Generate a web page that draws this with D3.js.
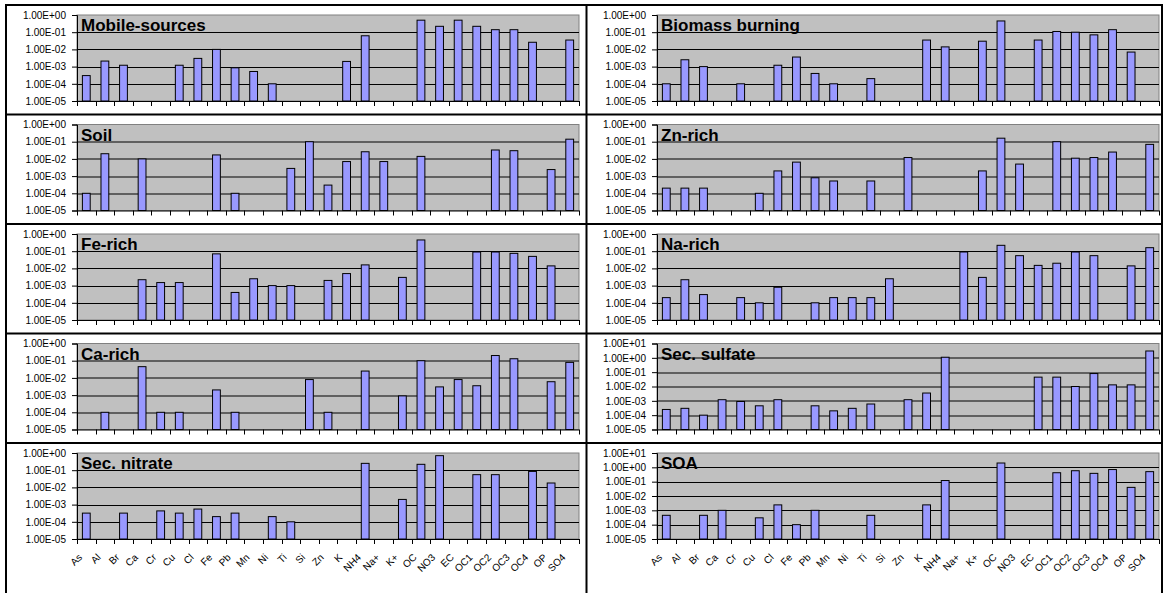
<!DOCTYPE html>
<html>
<head>
<meta charset="utf-8">
<script src="https://cdn.jsdelivr.net/npm/d3@7"></script>
<style>
  html, body { margin: 0; padding: 0; background: #fff; }
  svg { display: block; font-family: "Liberation Sans", Arial, sans-serif; }
</style>
</head>
<body>
<svg id="chart" width="1165" height="593"></svg>
<script>
// Species on the x axis (shared by every panel)
const categories = ["As","Al","Br","Ca","Cr","Cu","Cl","Fe","Pb","Mn","Ni","Ti","Si","Zn","K",
  "NH4","Na+","K+","OC","NO3","EC","OC1","OC2","OC3","OC4","OP","SO4"];

// Source profiles (mass fraction, null = not present)
//                       As      Al      Br      Ca      Cr      Cu      Cl      Fe      Pb      Mn      Ni      Ti      Si      Zn      K       NH4     Na+     K+      OC      NO3     EC      OC1     OC2     OC3     OC4     OP      SO4
const mobileSources  = [3e-4,   2.1e-3, 1.2e-3, null,   null,   1.2e-3, 3e-3,   1e-2,   8.5e-4, 5.2e-4, 1e-4,   null,   null,   null,   2e-3,   6.2e-2, null,   null,   0.5,    0.22,   0.5,    0.22,   0.14,   0.14,   2.6e-2, null,   3.5e-2];
const biomassBurning = [1e-4,   2.5e-3, 1e-3,   null,   1e-4,   null,   1.2e-3, 3.6e-3, 4e-4,   1e-4,   null,   2e-4,   null,   null,   3.5e-2, 1.4e-2, null,   3e-2,   0.45,   null,   3.5e-2, 0.11,   0.1,    7e-2,   0.14,   7e-3,   null];
const soil           = [1e-4,   2e-2,   null,   1e-2,   null,   null,   null,   1.7e-2, 1e-4,   null,   null,   2.8e-3, 0.1,    3e-4,   7e-3,   2.6e-2, 7e-3,   null,   1.4e-2, null,   null,   null,   3.3e-2, 3e-2,   null,   2.4e-3, 0.14];
const znRich         = [2e-4,   2e-4,   2e-4,   null,   null,   1e-4,   2e-3,   6.5e-3, 8e-4,   5.2e-4, null,   5.2e-4, null,   1.2e-2, null,   null,   null,   2e-3,   0.16,   5e-3,   null,   0.1,    1.1e-2, 1.2e-2, 2.5e-2, null,   7e-2];
const feRich         = [null,   null,   null,   2.2e-3, 1.5e-3, 1.5e-3, null,   7e-2,   4e-4,   2.5e-3, 1e-3,   1e-3,   null,   2e-3,   5e-3,   1.6e-2, null,   3e-3,   0.45,   null,   null,   9e-2,   9e-2,   7.5e-2, 5e-2,   1.4e-2, null];
const naRich         = [2e-4,   2.2e-3, 3e-4,   null,   2e-4,   1e-4,   8e-4,   null,   1e-4,   2e-4,   2e-4,   2e-4,   2.5e-3, null,   null,   null,   9e-2,   3e-3,   0.22,   5.5e-2, 1.5e-2, 2e-2,   9e-2,   5.5e-2, null,   1.4e-2, 0.16];
const caRich         = [null,   1e-4,   null,   4.5e-2, 1e-4,   1e-4,   null,   2e-3,   1e-4,   null,   null,   null,   8e-3,   1e-4,   null,   2.5e-2, null,   9e-4,   0.1,    3e-3,   8e-3,   3.5e-3, 0.2,    0.13,   null,   6e-3,   8e-2];
const secSulfate     = [2.5e-4, 3e-4,   1e-4,   1.2e-3, 9e-4,   4.5e-4, 1.2e-3, null,   4.5e-4, 2e-4,   3e-4,   6e-4,   null,   1.2e-3, 3.5e-3, 1.1,    null,   null,   null,   null,   4.5e-2, 4.5e-2, 1e-2,   8e-2,   1.3e-2, 1.3e-2, 3];
const secNitrate     = [3.2e-4, null,   3.2e-4, null,   4.3e-4, 3.2e-4, 5.5e-4, 2e-4,   3.2e-4, null,   2e-4,   1e-4,   null,   null,   null,   0.25,   null,   2e-3,   0.22,   0.7,    null,   5.5e-2, 5.5e-2, null,   8.5e-2, 1.8e-2, null];
const soa            = [4.5e-4, null,   4.5e-4, 1e-3,   null,   3e-4,   2.4e-3, 1e-4,   1e-3,   null,   null,   4.5e-4, null,   null,   2.4e-3, 0.12,   null,   null,   2,      null,   null,   0.42,   0.58,   0.38,   0.7,    4e-2,   0.5];

// Y tick values (decades)
const ticksTo1  = [1e-5, 1e-4, 1e-3, 1e-2, 1e-1, 1e0];
const ticksTo10 = [1e-5, 1e-4, 1e-3, 1e-2, 1e-1, 1e0, 1e1];

// Panel grid: column 0 = left, column 1 = right
const panels = [
  { title: "Mobile-sources",  values: mobileSources,  ticks: ticksTo1,  col: 0, row: 0 },
  { title: "Soil",            values: soil,           ticks: ticksTo1,  col: 0, row: 1 },
  { title: "Fe-rich",         values: feRich,         ticks: ticksTo1,  col: 0, row: 2 },
  { title: "Ca-rich",         values: caRich,         ticks: ticksTo1,  col: 0, row: 3 },
  { title: "Sec. nitrate",    values: secNitrate,     ticks: ticksTo1,  col: 0, row: 4 },
  { title: "Biomass burning", values: biomassBurning, ticks: ticksTo1,  col: 1, row: 0 },
  { title: "Zn-rich",         values: znRich,         ticks: ticksTo1,  col: 1, row: 1 },
  { title: "Na-rich",         values: naRich,         ticks: ticksTo1,  col: 1, row: 2 },
  { title: "Sec. sulfate",    values: secSulfate,     ticks: ticksTo10, col: 1, row: 3 },
  { title: "SOA",             values: soa,            ticks: ticksTo10, col: 1, row: 4 }
];

// Layout
const plotLeft = [77, 657];
const plotW = 502;
const plotH = 86;
const rowPitch = 109.5;
const firstPlotTop = 15;

// "1.00E-05" style labels
function sci(v) {
  const e = Math.round(Math.log10(v));
  const sign = e < 0 ? "-" : "+";
  const a = Math.abs(e);
  return "1.00E" + sign + (a < 10 ? "0" + a : "" + a);
}

const svg = d3.select("#chart");

panels.forEach(p => {
  const x0 = plotLeft[p.col];
  const y0 = firstPlotTop + rowPitch * p.row;
  const g = svg.append("g").attr("transform", `translate(${x0},${y0})`);

  const x = d3.scaleBand().domain(categories).range([0, plotW]).padding(0);
  const y = d3.scaleLog()
    .domain([p.ticks[0], p.ticks[p.ticks.length - 1]])
    .range([plotH, 0]);

  // plot area
  g.append("rect")
    .attr("x", 0).attr("y", 0).attr("width", plotW).attr("height", plotH)
    .attr("fill", "#C0C0C0").attr("stroke", "#808080").attr("stroke-width", 1);

  // horizontal gridlines
  g.selectAll("line.grid")
    .data(p.ticks.slice(1, -1))
    .join("line")
    .attr("class", "grid")
    .attr("x1", 0).attr("x2", plotW)
    .attr("y1", d => Math.round(y(d)) + 0.5).attr("y2", d => Math.round(y(d)) + 0.5)
    .attr("stroke", "#000").attr("stroke-width", 1);

  // bars
  const bw = x.bandwidth() * 0.42;
  g.selectAll("rect.bar")
    .data(categories.map((c, i) => ({ c, v: p.values[i] })).filter(d => d.v != null))
    .join("rect")
    .attr("class", "bar")
    .attr("x", d => x(d.c) + (x.bandwidth() - bw) / 2)
    .attr("y", d => y(d.v))
    .attr("width", bw)
    .attr("height", d => plotH - y(d.v))
    .attr("fill", "#9999FF").attr("stroke", "#000").attr("stroke-width", 1);

  // y axis
  const yAxis = d3.axisLeft(y).tickValues(p.ticks).tickFormat(sci).tickSize(5).tickPadding(6);
  const ya = g.append("g").call(yAxis);
  ya.select(".domain").attr("stroke", "#000");
  ya.selectAll("text").attr("font-size", 10).attr("fill", "#000")
    .attr("font-family", "'Liberation Sans', Arial, sans-serif");

  // x axis line and tick marks at category boundaries
  g.append("line")
    .attr("x1", 0).attr("x2", plotW)
    .attr("y1", plotH + 0.5).attr("y2", plotH + 0.5)
    .attr("stroke", "#000");
  g.selectAll("line.xtick")
    .data(d3.range(categories.length + 1))
    .join("line")
    .attr("class", "xtick")
    .attr("x1", k => Math.round(k * x.step()) + 0.5)
    .attr("x2", k => Math.round(k * x.step()) + 0.5)
    .attr("y1", plotH).attr("y2", plotH + 5)
    .attr("stroke", "#000");

  // slanted category labels under the bottom row only
  if (p.row === 4) {
    g.selectAll("text.xlab")
      .data(categories)
      .join("text")
      .attr("class", "xlab")
      .attr("transform", c => `translate(${x(c) + x.bandwidth() / 2 - 3.5},${plotH + 19}) rotate(-45)`)
      .attr("text-anchor", "end")
      .attr("font-size", 10)
      .attr("fill", "#000")
      .text(c => c);
  }

  // panel title
  g.append("text")
    .attr("x", 4).attr("y", 16)
    .attr("font-size", 17).attr("font-weight", "bold").attr("fill", "#000")
    .text(p.title);
});

// table borders around the panels
const border = svg.append("g").attr("stroke", "#000").attr("stroke-width", 2);
[6, 586.5, 1162].forEach(xv => {
  border.append("line").attr("x1", xv).attr("x2", xv).attr("y1", 4).attr("y2", 593);
});
d3.range(5).forEach(r => {
  const yv = 5 + rowPitch * r;
  border.append("line").attr("x1", 5).attr("x2", 1163).attr("y1", yv).attr("y2", yv);
});
</script>
</body>
</html>
